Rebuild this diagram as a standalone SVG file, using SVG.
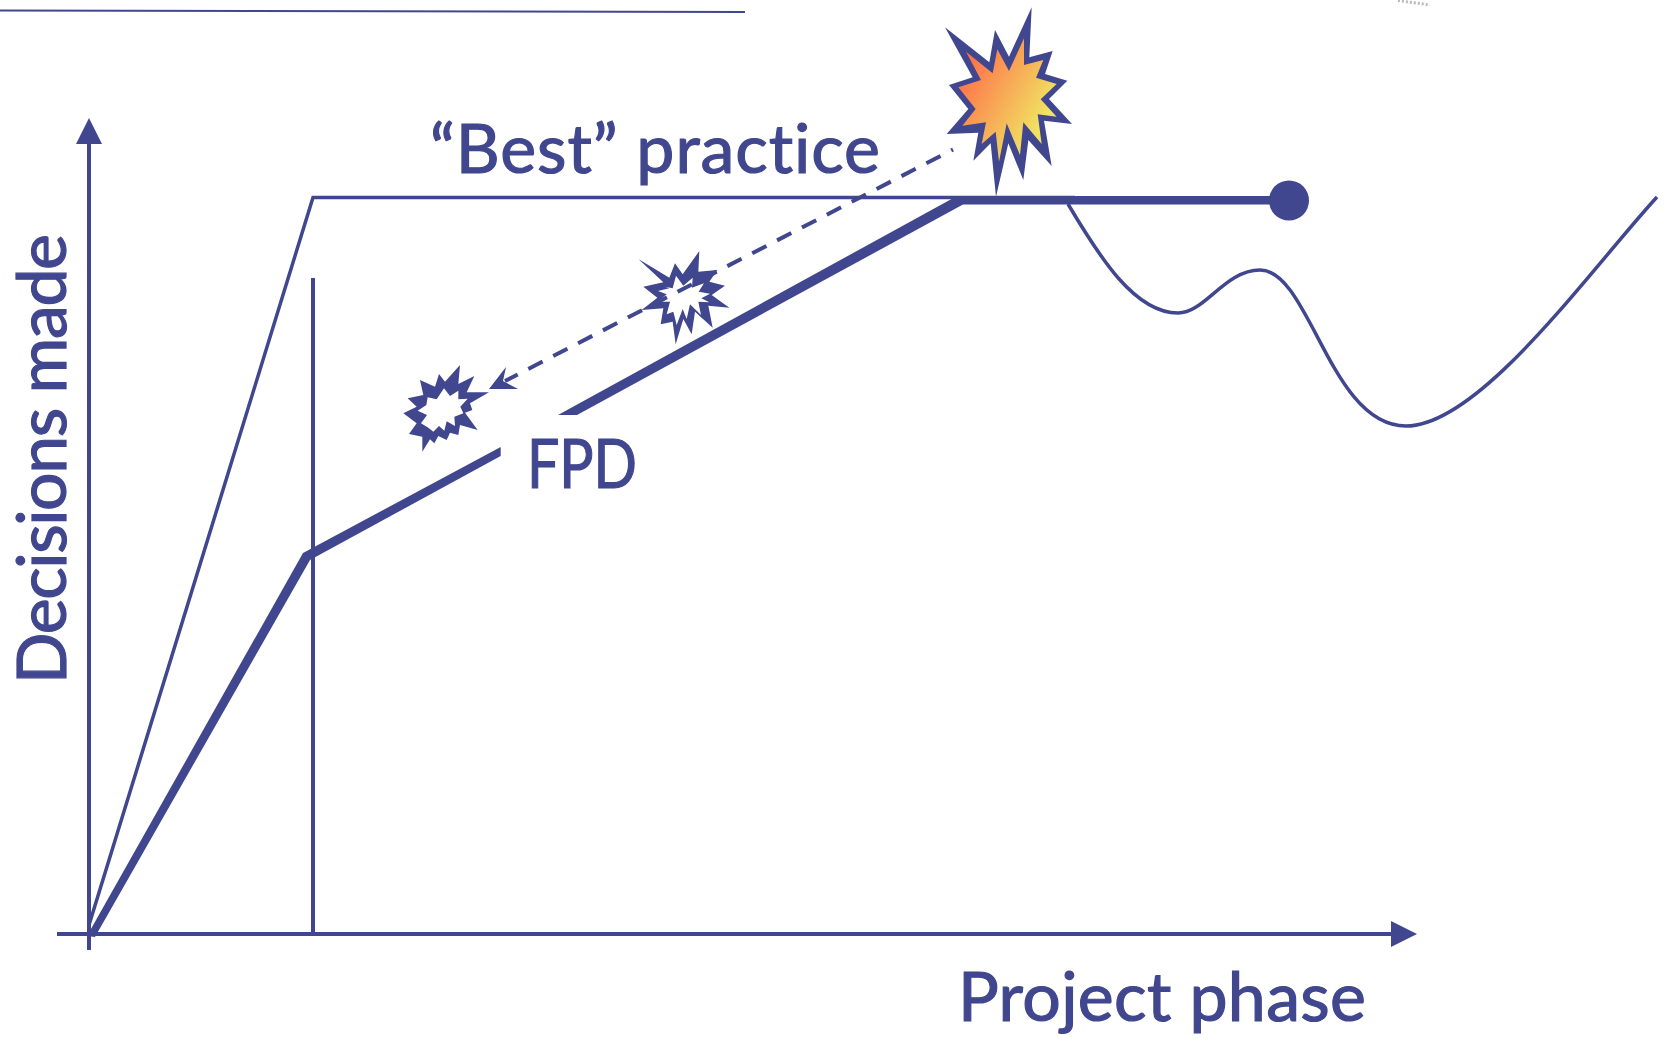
<svg xmlns="http://www.w3.org/2000/svg" width="1666" height="1039" viewBox="0 0 1666 1039">
<style>
.ln{fill:none;stroke:#41478e;stroke-width:4}
.thin{fill:none;stroke:#41478e;stroke-width:3.5}
.rule{fill:none;stroke:#41478e;stroke-width:2}
.solid{fill:#41478e;stroke:none}
.hole{fill:#fff;stroke:none}
text{font-family:"Lato","Open Sans","Liberation Sans",sans-serif;font-size:68px;fill:#41478e;stroke:#41478e;stroke-width:1.2;font-variant-ligatures:none}
</style>
<defs>
<linearGradient id="burst" gradientUnits="userSpaceOnUse" x1="190" y1="200" x2="440" y2="340">
<stop offset="0" stop-color="#ff6f4a"/><stop offset="1" stop-color="#f0e262"/>
</linearGradient>
</defs>
<rect width="1666" height="1039" fill="#fff"/>
<path d="M1398,0.5L1430,5" fill="none" stroke="#bbb" stroke-width="3" stroke-dasharray="2 2"/>
<g id="bursts">
<g id="burst-large" transform="translate(900,0) scale(.33333)">
<polygon class="solid" points="135,82 268,187 285,90 327,170 395,22 388,172 458,153 435,222 502,242 447,297 516,372 432,362 455,498 385,420 370,540 325,430 288,590 272,430 220,482 235,398 140,402 205,327 147,255 218,232"/>
<polygon fill="url(#burst)" points="198,155 278,220 292,148 327,213 372,115 372,195 430,180 408,233 470,252 422,298 470,350 413,343 425,432 370,367 360,465 320,370 297,485 287,395 245,432 258,367 187,377 227,327 175,262 243,240"/>
</g>
<g id="burst-mid" transform="translate(630,245) scale(.33333)">
<polygon class="solid" points="25,42 118,98 135,55 158,88 208,18 205,80 262,75 238,110 285,122 245,150 298,188 235,182 248,248 195,200 185,268 160,222 137,298 128,230 92,238 100,190 35,195 82,158 40,125 100,112"/>
<polygon class="hole" points="105,125 128,130 138,92 160,122 188,98 186,128 222,115 206,140 240,146 214,160 238,172 205,170 213,210 180,178 170,222 158,192 140,240 130,200 110,208 120,170 82,170 110,148 84,138 118,130"/>
</g>
<g id="burst-small" transform="translate(395,360) scale(.33333)">
<polygon class="solid" points="25,160 65,140 38,115 85,105 75,60 120,80 132,42 150,65 195,15 190,72 238,48 215,97 282,97 225,130 232,150 210,158 248,210 195,195 190,225 165,218 155,240 130,228 118,250 105,238 82,275 82,230 42,222 65,190"/>
<polygon class="hole" points="98,112 125,118 147,85 165,108 190,92 190,118 218,116 196,140 205,160 178,170 180,198 155,184 148,212 132,198 115,215 100,203 78,190 96,165 68,152 94,135"/>
</g>
</g>
<g id="connectors">
<line id="top-rule" class="rule" x1="0" y1="10.5" x2="745" y2="12"/>
<line id="y-axis" class="ln" x1="89" y1="950" x2="89" y2="140"/>
<polygon class="solid" points="89,118 102,144 76,144"/>
<line id="x-axis" class="ln" x1="57" y1="934" x2="1395" y2="934"/>
<polygon class="solid" points="1417,934 1391,921 1391,947"/>
<line id="phase-marker" class="ln" x1="313" y1="278" x2="313" y2="934"/>
<polyline id="best-practice" class="thin" points="89,925 313,197.5 1075,197.5"/>
<polygon id="fpd-low" class="solid" points="87,936 303,553 500.7,447 500.7,456 310,560 95,937"/>
<polygon id="fpd-high" class="solid" points="558,415 957,196 1270,196 1270,204.5 963,204.5 577,415"/>
<circle id="end-dot" class="solid" cx="1289" cy="200.5" r="20"/>
<path id="actual" class="thin" d="M1068,204C1100,258 1135,313 1178,313C1205,313 1225,270 1260,270C1310,270 1330,426 1406,426C1480,426 1590,270 1657,197"/>
<line id="rework" class="ln" x1="953" y1="149.5" x2="505" y2="381" stroke-dasharray="16 12" stroke-dashoffset="14"/>
<polygon class="solid" points="489,389 506,367 503,381 518,389"/>
</g>
<g id="labels">
<text id="label-best" x="430" y="173" textLength="450">“Best” practice</text>
<text id="label-fpd" x="527" y="488" textLength="110" lengthAdjust="spacingAndGlyphs">FPD</text>
<text id="label-phase" x="958" y="1021" textLength="408">Project phase</text>
<text id="label-decisions" transform="translate(66,684) rotate(-90)" textLength="450">Decisions made</text>
</g>
</svg>
